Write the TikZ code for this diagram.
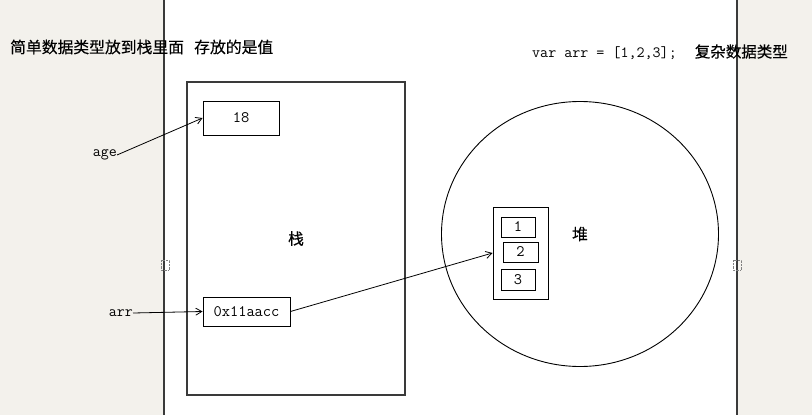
\documentclass[tikz,border=0pt]{standalone}
\usepackage{fontspec}
\newfontfamily\cjk[FakeBold=0.3]{Noto Sans CJK SC}
\usepackage{xcolor}
\usepackage{tikz}
\usetikzlibrary{arrows.meta, positioning, shapes.geometric}

\definecolor{margingray}{HTML}{F3F1EC}
\definecolor{edgegray}{HTML}{3A3A3A}

\begin{document}
\begin{tikzpicture}[
          x=1pt, y=-1pt,
          cell/.style={draw, line width=0.9pt, inner sep=0pt,
                       font=\fontsize{16}{18}\selectfont\ttfamily},
          frame/.style={draw=edgegray, line width=1.4pt, inner sep=0pt},
          lbl/.style={inner sep=0pt, font=\fontsize{15.5}{18}\selectfont\ttfamily},
          zh/.style={inner sep=0pt, font=\fontsize{15.8}{18}\selectfont\cjk},
          arr/.style={-{Straight Barb[length=6pt, width=7pt]}, line width=0.8pt}
        ]
          % page and margins
          \useasboundingbox (0,0) rectangle (812,415);
          \fill[white] (0,0) rectangle (812,415);
          \fill[margingray] (0,0) rectangle (164,415);
          \fill[margingray] (737,0) rectangle (812,415);
          \draw[edgegray, line width=1.6pt] (164,0) -- (164,415);
          \draw[edgegray, line width=1.6pt] (737,0) -- (737,415);
          \draw[densely dotted, gray] (161,260) rectangle (169,270);
          \draw[densely dotted, gray] (733,260) rectangle (741,270);

          % captions
          \node[zh, anchor=west] (simple) at (10,47) {简单数据类型放到栈里面\hspace{0.65em}存放的是值};
          \node[anchor=west, inner sep=0pt] (complex) at (532,52)
            {\fontsize{15.6}{18}\selectfont\ttfamily var arr = [1,2,3];\hspace{18pt}%
             \fontsize{15.5}{18}\selectfont\cjk 复杂数据类型};

          % stack
          \node[frame, minimum width=218pt, minimum height=313pt, zh] (stack) at (296,238.5) {栈};
          \node[cell, minimum width=76pt, minimum height=34pt] (age18) at (241,118) {18};
          \node[cell, minimum width=87pt, minimum height=29pt] (addr) at (246.5,311.5) {0x11aacc};
          \node[lbl, anchor=east] (age) at (117,155) {age};
          \node[lbl, anchor=east] (arrvar) at (133,313) {arr};

          % heap
          \node[ellipse, draw, line width=0.9pt, minimum width=277pt, minimum height=265pt, zh] (heap) at (580,234) {堆};
          \node[cell, minimum width=55pt, minimum height=92pt] (arrbox) at (520.5,253) {};
          \node[cell, minimum width=34pt, minimum height=20pt] (e1) at (518,227) {1};
          \node[cell, minimum width=35pt, minimum height=20pt] (e2) at (520.5,252) {2};
          \node[cell, minimum width=34pt, minimum height=21pt] (e3) at (518,279.5) {3};

          \draw[arr] (age.east) -- (age18.west);
          \draw[arr] (arrvar.east) -- (addr.west);
          \draw[arr] (addr.east) -- (arrbox.west);
        \end{tikzpicture}
\end{document}
